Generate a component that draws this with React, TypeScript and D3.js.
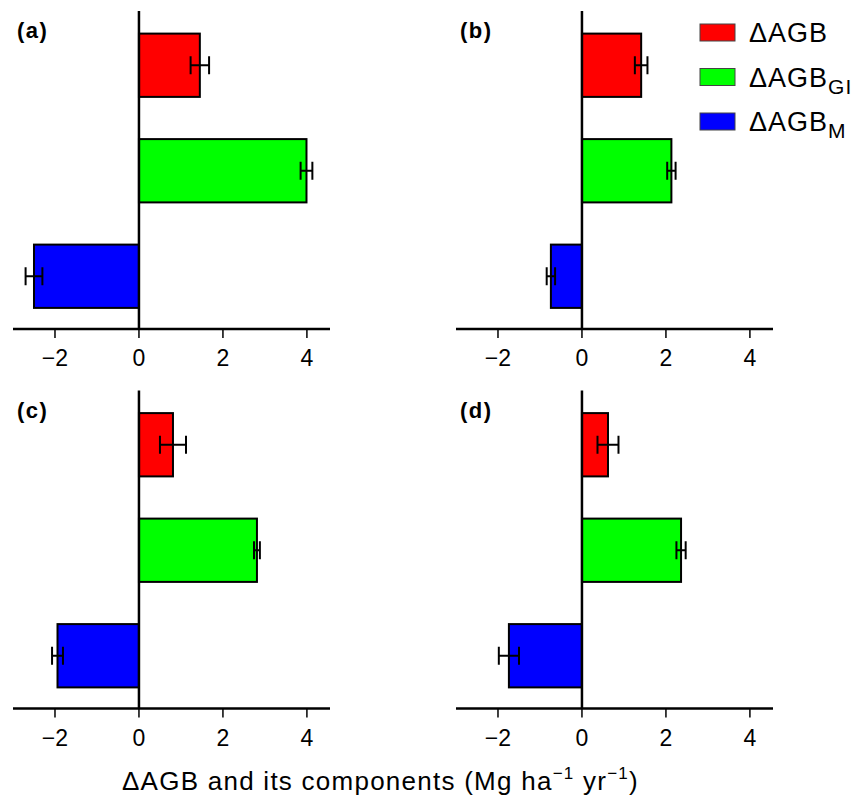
import React from 'react';
import * as d3 from 'd3';

// components shown in each panel, top to bottom
const components = ['dAGB', 'dAGB_GI', 'dAGB_M'];
const colors = ['#ff0000', '#00ff00', '#0000ff'];
const panelLabels = ['(a)', '(b)', '(c)', '(d)'];

// mean values per panel (Mg ha-1 yr-1)
const valuesA = [1.45, 3.99, -2.5];
const valuesB = [1.41, 2.13, -0.74];
const valuesC = [0.81, 2.81, -1.94];
const valuesD = [0.62, 2.36, -1.74];

// standard errors per panel
const errorsA = [0.22, 0.14, 0.2];
const errorsB = [0.15, 0.1, 0.1];
const errorsC = [0.31, 0.07, 0.13];
const errorsD = [0.25, 0.11, 0.24];

const xTicks = [-2, 0, 2, 4];
const xDomain = [-3, 4.55];

const FONT = '"Liberation Sans", Arial, Helvetica, sans-serif';

const W = 853;
const H = 797;

const Panel = ({ x0, y0, label, values, errors }) => {
  // plot area in panel coordinates
  const plotTop = 11;
  const axisY = 329;

  const x = d3.scaleLinear().domain(xDomain).range([13, 330]);
  const y = d3.scaleBand()
    .domain(components)
    .range([plotTop + 1.5, axisY])
    .paddingInner(0.4)
    .paddingOuter(0.2);

  const capH = 18;

  return (
    <g transform={`translate(${x0},${y0})`}>
      {/* bars */}
      {components.map((c, i) => {
        const v = values[i];
        const bx = Math.min(x(0), x(v));
        const bw = Math.abs(x(v) - x(0));
        return (
          <rect key={c} x={bx} y={y(c)} width={bw} height={y.bandwidth()}
            fill={colors[i]} stroke="#000" strokeWidth={2} />
        );
      })}

      {/* error bars */}
      {components.map((c, i) => {
        const v = values[i];
        const e = errors[i];
        const cy = y(c) + y.bandwidth() / 2;
        const xl = x(v - e);
        const xr = x(v + e);
        return (
          <g key={c + '-err'} stroke="#000" strokeWidth={2}>
            <line x1={xl} x2={xr} y1={cy} y2={cy} />
            <line x1={xl} x2={xl} y1={cy - capH / 2} y2={cy + capH / 2} />
            <line x1={xr} x2={xr} y1={cy - capH / 2} y2={cy + capH / 2} />
          </g>
        );
      })}

      {/* zero line */}
      <line x1={x(0)} x2={x(0)} y1={plotTop} y2={axisY} stroke="#000" strokeWidth={2.5} />

      {/* x axis */}
      <line x1={x.range()[0]} x2={x.range()[1]} y1={axisY} y2={axisY} stroke="#000" strokeWidth={2.5} />
      {xTicks.map(t => (
        <g key={t}>
          <line x1={x(t)} x2={x(t)} y1={axisY} y2={axisY + 9} stroke="#000" strokeWidth={1.5} />
          <text x={x(t)} y={axisY + 37} textAnchor="middle" fontSize={23}
            fontFamily={FONT} fill="#000">{t < 0 ? '\u2212' + Math.abs(t) : t}</text>
        </g>
      ))}

      {/* panel label */}
      <text x={17} y={38} fontSize={22} fontWeight="bold" letterSpacing={1.5}
        fontFamily={FONT} fill="#000">{label}</text>
    </g>
  );
};

const legendItems = [
  { main: '\u0394AGB', sub: '' },
  { main: '\u0394AGB', sub: 'GI' },
  { main: '\u0394AGB', sub: 'M' },
];

export default function App() {
  const colX = [0, 443];
  const rowY = [0, 379.5];
  const panels = [
    { values: valuesA, errors: errorsA },
    { values: valuesB, errors: errorsB },
    { values: valuesC, errors: errorsC },
    { values: valuesD, errors: errorsD },
  ];

  const legendY = d3.scalePoint().domain(components).range([24, 113]);

  return (
    <svg width={W} height={H} style={{ position: 'absolute', left: 0, top: 0, background: '#fff' }}>
      <rect width={W} height={H} fill="#fff" />
      {panels.map((p, i) => (
        <Panel key={i} x0={colX[i % 2]} y0={rowY[Math.floor(i / 2)]}
          label={panelLabels[i]} values={p.values} errors={p.errors} />
      ))}

      {/* legend */}
      {components.map((c, i) => (
        <g key={c} transform={`translate(0,${legendY(c)})`}>
          <rect x={700} y={0} width={35} height={17} fill={colors[i]} stroke="#444" strokeWidth={1} />
          <text x={749} y={18} fontSize={27} letterSpacing={1} fontFamily={FONT} fill="#000">
            {legendItems[i].main}
            {legendItems[i].sub && (
              <tspan fontSize={21} dy={7}>{legendItems[i].sub}</tspan>
            )}
          </text>
        </g>
      ))}

      {/* x axis title */}
      <text x={122} y={790} fontSize={26} letterSpacing={1.25} fontFamily={FONT} fill="#000">
        {'\u0394AGB and its components (Mg ha'}
        <tspan fontSize={17} dy={-11}>{'\u22121'}</tspan>
        <tspan dy={11}>{' yr'}</tspan>
        <tspan fontSize={17} dy={-11}>{'\u22121'}</tspan>
        <tspan dy={11}>{')'}</tspan>
      </text>
    </svg>
  );
}
